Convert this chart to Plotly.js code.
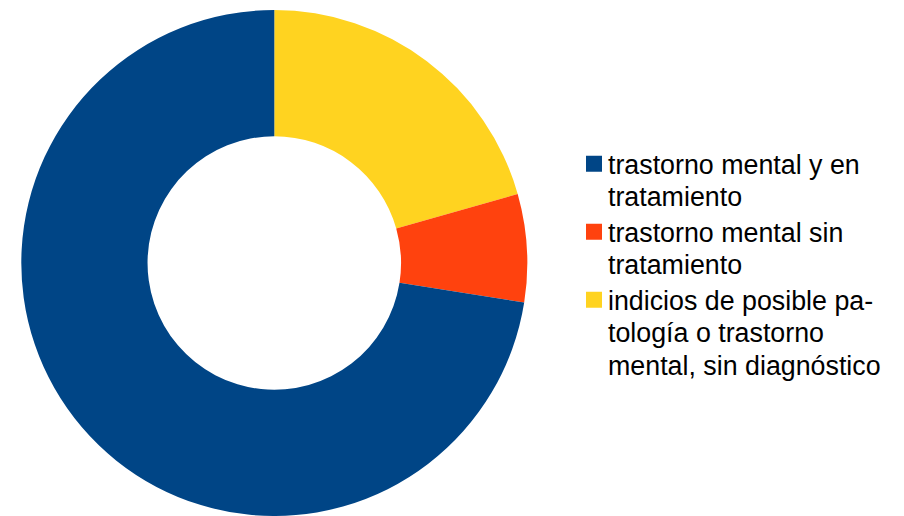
<!DOCTYPE html>
<html>
<head>
<meta charset="utf-8">
<script src="https://cdn.plot.ly/plotly-3.0.1.min.js"></script>
<style>html,body{margin:0;padding:0;background:#fff;}#chart{width:904px;height:516px;}</style>
</head>
<body>
<div id="chart"></div>
<script>
const labels = [
  'trastorno mental y en<br>tratamiento',
  'trastorno mental sin<br>tratamiento',
  'indicios de posible pa-<br>tología o trastorno<br>mental, sin diagnóstico'
];
const values = [72.5, 6.9, 20.6];
const colors = ['#004586', '#ff420e', '#ffd320'];

// drawn clockwise from 12 o'clock in reverse order; legend shows original order
const rev = a => a.slice().reverse();

const trace = {
  type: 'pie',
  labels: rev(labels).map(l => '<span style="font-size:26.8px">' + l + '</span>'),
  values: rev(values),
  sort: false,
  direction: 'clockwise',
  rotation: 0,
  hole: 0.501,
  textinfo: 'none',
  hoverinfo: 'none',
  marker: {colors: rev(colors), line: {width: 0}},
  domain: {x: [21.3/904, 527.3/904], y: [0, 506/516]}
};

const layout = {
  width: 904, height: 516,
  margin: {l: 0, r: 0, t: 0, b: 0},
  paper_bgcolor: '#ffffff',
  showlegend: true,
  legend: {
    x: 568/904, xanchor: 'left',
    y: 1 - 141/516, yanchor: 'top',
    valign: 'top',
    traceorder: 'reversed',
    font: {family: 'Liberation Sans, Arial, sans-serif', size: 25, color: '#000000'},
    bgcolor: 'rgba(0,0,0,0)'
  }
};

Plotly.newPlot('chart', [trace], layout, {displayModeBar: false, staticPlot: true}).then(function () {
  // legend swatches in the reference are 16px squares sitting close to the text
  document.querySelectorAll('#chart .legend .legendpoints path').forEach(function (p) {
    var t = p.getAttribute('transform') || '';
    p.setAttribute('transform', t + ' translate(6,0) scale(1.333)');
  });
});
</script>
</body>
</html>
